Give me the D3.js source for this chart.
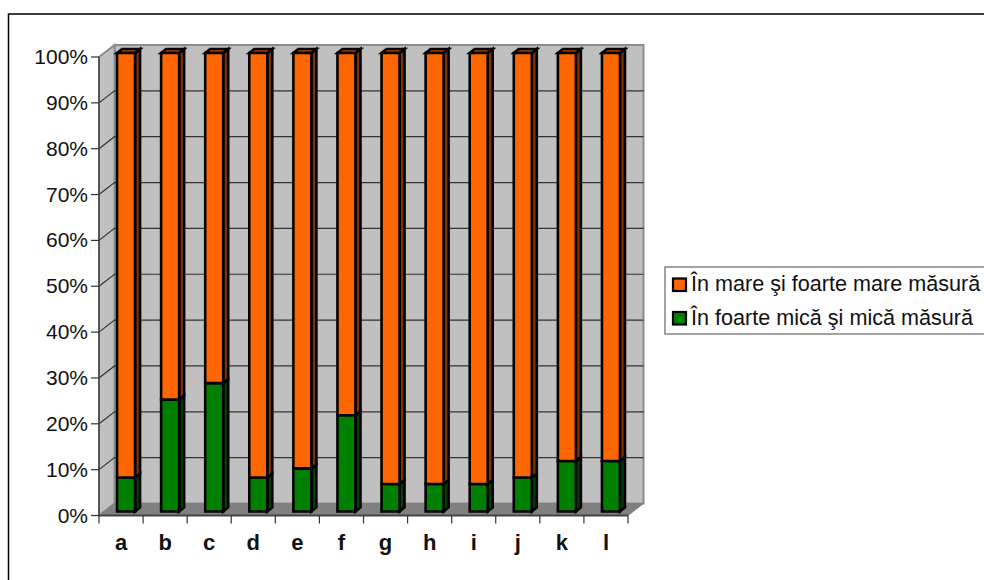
<!DOCTYPE html>
<html><head><meta charset="utf-8">
<style>html,body{margin:0;padding:0;background:#fff}svg{display:block}text{font-family:"Liberation Sans",Arial,sans-serif;fill:#111}</style>
<script src="https://cdn.jsdelivr.net/npm/d3@7/dist/d3.min.js"></script>
</head><body><svg id="c" width="984" height="580"></svg>
<script>
const categories=["a","b","c","d","e","f","g","h","i","j","k","l"];
const lowValues=[7.4,24.4,28,7.4,9.4,21,6,6,6,7.4,11,11];
const highValues=[92.6,75.6,72,92.6,90.6,79,94,94,94,92.6,89,89];
const tickValues=[0,10,20,30,40,50,60,70,80,90,100];
const seriesNames=["În mare şi foarte mare măsură","În foarte mică şi mică măsură"];
const orange={f:"#FF6600",s:"#803300",t:"#B34700"},green={f:"#008000",s:"#004000",t:"#005A00"};

const svg=d3.select("#c");
svg.append("rect").attr("x",8.5).attr("y",14).attr("width",1000).attr("height",600).attr("fill","#fff").attr("stroke","#000").attr("stroke-width",1.5);

const y=d3.scaleLinear().domain([0,100]).range([515.5,57]);
const x=d3.scaleBand().domain(categories).range([99,628]);
const dx=15.5,dy=-12;
const xl=99,xr=628;
const poly=(pts,fill,stroke,sw)=>svg.append("polygon").attr("points",pts.map(p=>p.join(",")).join(" ")).attr("fill",fill).attr("stroke",stroke||"none").attr("stroke-width",sw||0);

// walls
poly([[xl+dx,y(100)+dy],[xr+dx,y(100)+dy],[xr+dx,y(0)+dy],[xl+dx,y(0)+dy]],"#C0C0C0","#8c8c8c",2);
poly([[xl,y(100)],[xl+dx,y(100)+dy],[xl+dx,y(0)+dy],[xl,y(0)]],"#C0C0C0","#8c8c8c",2);
poly([[xl,y(0)],[xl+dx,y(0)+dy],[xr+dx,y(0)+dy],[xr,y(0)]],"#808080","#808080",1);

// gridlines
tickValues.filter(t=>t>0&&t<100).forEach(t=>{
  svg.append("path").attr("fill","none").attr("stroke","#333").attr("stroke-width",1.2)
    .attr("d",`M${xl},${y(t)}L${xl+dx},${y(t)+dy}L${xr+dx},${y(t)+dy}`);
});

// axes
svg.append("line").attr("x1",xl).attr("x2",xl).attr("y1",y(100)).attr("y2",y(0)).attr("stroke","#444").attr("stroke-width",1.5);
svg.append("line").attr("x1",xl).attr("x2",xr).attr("y1",y(0)).attr("y2",y(0)).attr("stroke","#444").attr("stroke-width",2);
tickValues.forEach(t=>{
  svg.append("line").attr("x1",xl-8).attr("x2",xl).attr("y1",y(t)).attr("y2",y(t)).attr("stroke","#333").attr("stroke-width",1.2);
  svg.append("text").attr("x",88).attr("y",y(t)+7).attr("text-anchor","end").attr("font-size",21).text(t+"%");
});
d3.range(categories.length+1).forEach(i=>{
  const px=xl+i*x.step();
  svg.append("line").attr("x1",px).attr("x2",px).attr("y1",y(0)).attr("y2",y(0)+8).attr("stroke","#333").attr("stroke-width",1.2);
});
categories.forEach(c=>{
  svg.append("text").attr("x",x(c)+x.bandwidth()/2).attr("y",550).attr("text-anchor","middle").attr("font-size",22).attr("font-weight","bold").text(c);
});

// 3D bars
const bw=18,bdx=5,bdy=-4;
function bar(c,v0,v1,col,top){
  const x0=x(c)+x.bandwidth()/2-bw/2+bdx,x1=x0+bw;
  const yb=y(v0)+bdy,yt=y(v1)+bdy;
  poly([[x1,yb],[x1+bdx,yb+bdy],[x1+bdx,yt+bdy],[x1,yt]],col.s,"#000",2.6);
  if(top) poly([[x0,yt],[x0+bdx,yt+bdy],[x1+bdx,yt+bdy],[x1,yt]],col.t,"#000",2.6);
  poly([[x0,yb],[x1,yb],[x1,yt],[x0,yt]],col.f,"#000",2.6);
}
categories.forEach((c,i)=>{
  bar(c,0,lowValues[i],green,false);
  bar(c,lowValues[i],lowValues[i]+highValues[i],orange,true);
});

// legend
svg.append("rect").attr("x",665).attr("y",267).attr("width",340).attr("height",67).attr("fill","#fff").attr("stroke","#666").attr("stroke-width",1.2);
[orange,green].forEach((col,i)=>{
  const cy=284.5+i*33.5;
  svg.append("rect").attr("x",673).attr("y",cy-6).attr("width",13).attr("height",12.5).attr("fill",col.f).attr("stroke","#000").attr("stroke-width",2.2);
  svg.append("text").attr("x",691).attr("y",cy+6.8).attr("font-size",21.6).text(seriesNames[i]);
});
</script></body></html>
